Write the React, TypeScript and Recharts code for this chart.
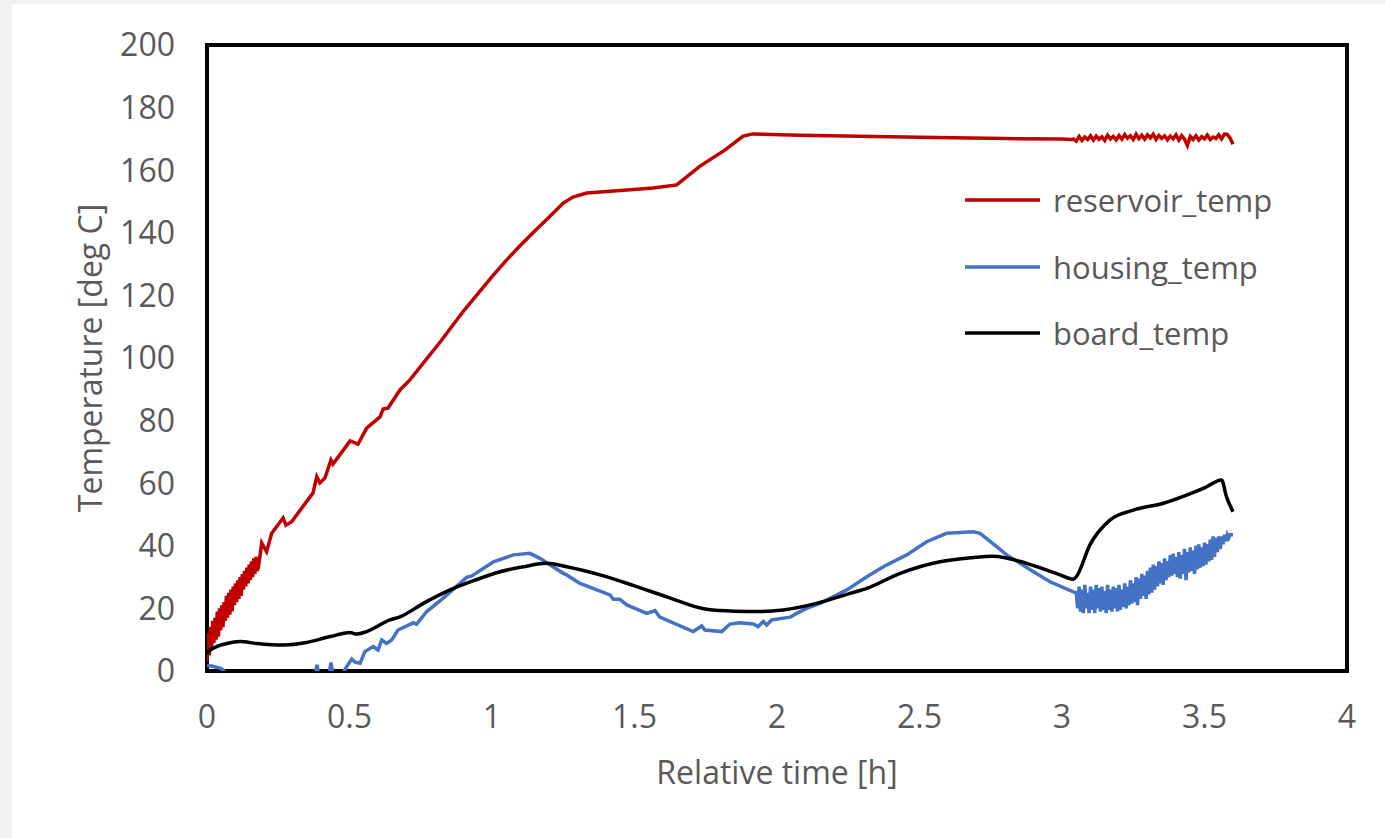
import React from "react";
import { LineChart, Line, XAxis, YAxis, Legend, Label, ReferenceArea } from "recharts";

// time [h], temperature [deg C]
const reservoirStart: [number, number][] = [
  [0, 3], [0.004, 12], [0.008, 5], [0.012, 14], [0.016, 7], [0.02, 16], [0.024, 9],
  [0.028, 17], [0.032, 10], [0.036, 19], [0.04, 11], [0.044, 20], [0.048, 13],
  [0.052, 21], [0.056, 14], [0.06, 22], [0.064, 16], [0.068, 24], [0.072, 17],
  [0.076, 25], [0.08, 18], [0.084, 26], [0.088, 19], [0.092, 27], [0.096, 21],
  [0.1, 28], [0.104, 22], [0.108, 29], [0.112, 23], [0.116, 30], [0.12, 24],
  [0.124, 31], [0.128, 26], [0.132, 32], [0.136, 27], [0.14, 33], [0.144, 28],
  [0.148, 34], [0.152, 29], [0.156, 35], [0.16, 30], [0.164, 36], [0.168, 31],
  [0.172, 36.5], [0.176, 32], [0.18, 33],
];

const reservoirMain: [number, number][] = [
  [0.192, 40.9], [0.209, 38.1], [0.227, 44], [0.267, 48.9], [0.277, 46.6],
  [0.297, 47.7], [0.372, 56.9], [0.385, 62.1], [0.396, 60.1], [0.414, 61.7],
  [0.435, 67.4], [0.442, 66.1], [0.502, 73.5], [0.53, 72.5], [0.56, 77.6],
  [0.607, 81.2], [0.618, 83.7], [0.635, 84], [0.677, 89.8], [0.712, 93],
  [0.818, 105.1], [0.9, 115], [0.95, 120.5], [1.0, 126], [1.05, 131.2],
  [1.1, 136], [1.15, 140.6], [1.2, 145], [1.25, 149.5], [1.284, 151.4],
  [1.332, 152.7], [1.438, 153.4], [1.565, 154.3], [1.648, 155.3], [1.73, 161.3],
  [1.818, 166.5], [1.881, 170.9], [1.916, 171.6], [2.081, 171.2], [2.5, 170.5],
  [2.8, 170.1], [3.0, 170], [3.035, 169.8],
];

const reservoirNoiseStart = 3.04;
const reservoirNoiseStep = 0.01;
const reservoirNoise = [
  170, 169.3, 170.8, 169.5, 170.6, 169.8, 171, 169.6, 170.9, 169.9, 170.7, 169.5,
  171.2, 170, 170.8, 169.7, 171.1, 169.9, 171.4, 170.2, 171, 169.8, 171.5, 170.1,
  171.2, 169.9, 171.3, 170.3, 171.5, 169.8, 171.1, 170.2, 171, 169.7, 170.9, 170,
  171.3, 169.6, 171, 169.9, 167.9, 170.8, 169.8, 171, 169.6, 170.7, 170, 171.2,
  169.8, 170.6, 170.1, 171.3, 170, 171.5, 171.4, 170.2, 168.3,
];

const housingMain: [number, number][] = [
  [0, 1.8], [0.02, 1.5], [0.05, 0.8], [0.07, -1], [0.38, -1], [0.386, 2],
  [0.392, -1], [0.428, -1], [0.435, 2.7], [0.442, -1], [0.475, -1], [0.49, 1.4],
  [0.508, 3.8], [0.52, 2.8], [0.537, 2.5], [0.554, 6.2], [0.583, 7.8], [0.6, 6.7],
  [0.613, 9.9], [0.63, 8.8], [0.648, 9.9], [0.67, 13.1], [0.724, 15.4],
  [0.735, 14.9], [0.771, 19], [0.829, 23.3], [0.911, 29.9], [0.929, 30.4],
  [1.005, 34.9], [1.075, 37.1], [1.133, 37.6], [1.168, 36], [1.25, 31.2],
  [1.262, 30.7], [1.309, 28], [1.414, 24.3], [1.426, 22.9], [1.449, 22.9],
  [1.473, 21.1], [1.543, 18.4], [1.572, 19.3], [1.589, 17.2], [1.706, 12.6],
  [1.736, 14.4], [1.747, 13.1], [1.806, 12.6], [1.835, 15], [1.87, 15.4],
  [1.917, 15], [1.934, 14.2], [1.952, 15.8], [1.964, 14.7], [1.981, 16.3],
  [2.046, 17.2], [2.069, 18.4], [2.104, 20], [2.151, 21.6], [2.245, 25.9],
  [2.315, 30.1], [2.373, 33.3], [2.455, 37.1], [2.525, 41.3], [2.595, 44],
  [2.689, 44.5], [2.712, 44], [2.76, 40.5], [2.806, 37.1], [2.9, 31.7],
  [2.958, 28.5], [3.04, 25.3],
];

const housingNoiseStart = 3.05;
const housingNoiseStep = 0.005;
const housingNoise = [
  25, 20, 27, 19, 26, 18.5, 27.5, 20, 25, 18.5, 27, 19.5, 26, 18.5, 27.5, 20,
  26.5, 19, 27, 19.5, 25.5, 18.5, 27.5, 19.5, 26, 19, 27, 20, 26.5, 19, 27.5, 19.5,
  26, 20.5, 28, 20, 27, 21, 29, 21.5, 28, 22, 30, 21, 29.5, 23, 31, 24, 30.5, 23,
  32, 24.5, 33, 25, 34, 26, 33.5, 27, 35, 28, 34.5, 27.5, 36, 29, 35, 30, 37, 30.5,
  37.5, 31, 36.5, 30, 38, 29.5, 37, 31, 39, 29, 38, 31.5, 39.5, 32, 38.5, 31, 40,
  32.5, 40.5, 33, 39.5, 33.5, 41, 34, 40.5, 35, 42, 35.5, 43, 36.5, 42.5, 38, 43,
  39, 43, 40.5, 43.5, 41.5, 43.5, 42.5, 43.5, 43.5, 43.5,
];

const board: [number, number][] = [
  [0, 5.5], [0.005, 6.2], [0.04, 8], [0.069, 8.8], [0.116, 9.4], [0.174, 8.8],
  [0.268, 8.3], [0.35, 9.1], [0.432, 11], [0.502, 12.3], [0.525, 11.8],
  [0.56, 12.6], [0.642, 16.3], [0.677, 17.3], [0.759, 21.6], [0.853, 25.9],
  [0.94, 29], [1.028, 31.7], [1.11, 33.3], [1.192, 34.4], [1.262, 33.3],
  [1.379, 30.7], [1.5, 27.2], [1.613, 23.7], [1.753, 19.7], [1.85, 19.1],
  [1.94, 19], [2.022, 19.5], [2.139, 21.6], [2.256, 24.8], [2.315, 26.4],
  [2.432, 31.2], [2.572, 34.9], [2.68, 36.2], [2.759, 36.7], [2.876, 34.4],
  [2.993, 30.7], [3.04, 29.3], [3.05, 30.1], [3.098, 40.3], [3.168, 48.2],
  [3.25, 51.4], [3.356, 53.6], [3.437, 56.2], [3.5, 58.5], [3.56, 61],
  [3.577, 55.7], [3.6, 50.9],
];

const xTicks = [0, 0.5, 1, 1.5, 2, 2.5, 3, 3.5, 4];
const yTicks = [0, 20, 40, 60, 80, 100, 120, 140, 160, 180, 200];

const series = [
  { name: "reservoir_temp", color: "#C00000" },
  { name: "housing_temp", color: "#4472C4" },
  { name: "board_temp", color: "#000000" },
];

const toRows = (pts: [number, number][]) => pts.map(([t, v]) => ({ t, v }));
const fromSamples = (start: number, step: number, vals: number[]) =>
  vals.map((v, i) => ({ t: +(start + i * step).toFixed(4), v }));

const reservoirData = [
  ...toRows(reservoirStart),
  ...toRows(reservoirMain),
  ...fromSamples(reservoirNoiseStart, reservoirNoiseStep, reservoirNoise),
];
const housingData = [
  ...toRows(housingMain),
  ...fromSamples(housingNoiseStart, housingNoiseStep, housingNoise),
];
const boardData = toRows(board);

const FONT = "'Open Sans', sans-serif";
const TEXT = "#595959";

const LegendBox = () => (
  <div style={{ fontFamily: FONT }}>
    {series.map((s) => (
      <div
        key={s.name}
        style={{ height: 66.5, display: "flex", alignItems: "center" }}
      >
        <svg width={75} height={6}>
          <line x1={0} x2={75} y1={3} y2={3} stroke={s.color} strokeWidth={3.5} />
        </svg>
        <span style={{ marginLeft: 13, fontSize: 31, color: TEXT }}>{s.name}</span>
      </div>
    ))}
  </div>
);

export default function App() {
  return (
    <div
      style={{
        position: "absolute",
        left: 0,
        top: 0,
        width: 1385,
        height: 838,
        background: "#ffffff",
      }}
    >
      <div style={{ position: "absolute", left: 0, top: 0, width: 1385, height: 4, background: "#f2f2f2" }} />
      <div style={{ position: "absolute", left: 0, top: 0, width: 12, height: 838, background: "#f2f2f2" }} />
      <div style={{ position: "absolute", left: 0, top: 0 }}>
        <LineChart
          width={1385}
          height={838}
          margin={{ top: 45, right: 38, left: 57, bottom: 47 }}
        >
          <XAxis
            dataKey="t"
            type="number"
            domain={[0, 4]}
            ticks={xTicks}
            allowDataOverflow
            height={120}
            tickLine={false}
            tickSize={6}
            tickMargin={28}
            axisLine={false}
            tick={{ fill: TEXT, fontSize: 32, fontFamily: FONT }}
          >
            <Label
              value="Relative time [h]"
              position="insideBottom"
              offset={7}
              style={{ fill: TEXT, fontSize: 32, fontFamily: FONT }}
            />
          </XAxis>
          <YAxis
            type="number"
            domain={[0, 200]}
            ticks={yTicks}
            allowDataOverflow
            width={150}
            tickLine={false}
            tickSize={6}
            tickMargin={26}
            axisLine={false}
            tick={{ fill: TEXT, fontSize: 32, fontFamily: FONT }}
          >
            <Label
              content={({ viewBox }: any) => {
                const cx = viewBox.x + 45;
                const cy = viewBox.y + viewBox.height / 2;
                return (
                  <text
                    transform={`translate(${cx},${cy}) rotate(-90)`}
                    textAnchor="middle"
                    fill={TEXT}
                    fontSize={32}
                    fontFamily={FONT}
                  >
                    Temperature [deg C]
                  </text>
                );
              }}
            />
          </YAxis>
          <Legend
            layout="horizontal"
            verticalAlign="middle"
            align="center"
            content={() => <LegendBox />}
            wrapperStyle={{ left: 965, top: 167, width: "auto", height: "auto" }}
          />
          <Line
            data={reservoirData}
            dataKey="v"
            name="reservoir_temp"
            type="linear"
            stroke="#C00000"
            strokeWidth={3.5}
            dot={false}
            isAnimationActive={false}
          />
          <Line
            data={housingData}
            dataKey="v"
            name="housing_temp"
            type="linear"
            stroke="#4472C4"
            strokeWidth={3.5}
            dot={false}
            isAnimationActive={false}
          />
          <Line
            data={boardData}
            dataKey="v"
            name="board_temp"
            type="monotone"
            stroke="#000000"
            strokeWidth={3.5}
            dot={false}
            isAnimationActive={false}
          />
          <ReferenceArea
            x1={0}
            x2={4}
            y1={0}
            y2={200}
            fill="none"
            fillOpacity={0}
            stroke="#000"
            strokeWidth={4}
            strokeOpacity={1}
            ifOverflow="visible"
          />
        </LineChart>
      </div>
    </div>
  );
}
